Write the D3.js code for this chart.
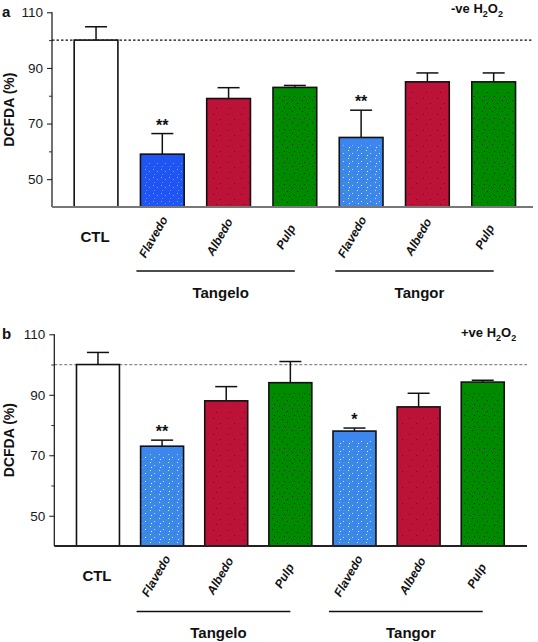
<!DOCTYPE html>
<html>
<head>
<meta charset="utf-8">
<script src="https://cdn.jsdelivr.net/npm/d3@7"></script>
<style>
  html, body { margin: 0; padding: 0; background: #fff; }
  svg { display: block; font-family: "Liberation Sans", Arial, sans-serif; }
</style>
</head>
<body>
<svg id="chart" width="538" height="642"></svg>
<script>
// ---------- data ----------
const categories = ["CTL", "Flavedo", "Albedo", "Pulp", "Flavedo", "Albedo", "Pulp"];
const groupNames = ["Tangelo", "Tangor"];
const groupMembers = [[1, 2, 3], [4, 5, 6]];
const tissue = ["ctl", "flavedo", "albedo", "pulp", "flavedo", "albedo", "pulp"];

const valuesA = [100, 59, 79, 83, 65, 85, 85];
const errorsA = [4.8, 7.4, 3.9, 0.7, 9.8, 3.2, 3.2];
const signifA = ["", "**", "", "", "**", "", ""];

const valuesB = [100, 73, 88, 94, 78, 86, 94.2];
const errorsB = [4, 2, 4.7, 7, 1, 4.5, 0.6];
const signifB = ["", "**", "", "", "*", "", ""];

const yDomain = [40, 110];
const majorTicks = [50, 70, 90, 110];
const minorTicks = [60, 80, 100];
const referenceLevel = 100;
const yTitle = "DCFDA (%)";

// ---------- drawing ----------
const svg = d3.select("#chart");
const defs = svg.append("defs");

function makeDotPattern(id, w, h, dots) {
  const p = defs.append("pattern").attr("id", id)
    .attr("patternUnits", "userSpaceOnUse").attr("width", w).attr("height", h);
  dots.forEach(d => p.append("rect").attr("x", d[0]).attr("y", d[1])
    .attr("width", 1).attr("height", 1).attr("fill", d[2]).attr("opacity", d[3] || 1));
}
makeDotPattern("dotsRed", 14, 16, [[3,2,"#000",0.5],[10,7,"#000",0.5],[6,12,"#000",0.5]]);
makeDotPattern("dotsGreen", 10, 11, [[2,1,"#000",0.7],[7,4,"#000",0.7],[4,8,"#000",0.7],[9,9,"#000",0.5]]);
makeDotPattern("dotsBlue", 9, 8, [[1,1,"#c8e0ff"],[4,0,"#2db82d"],[7,3,"#e0f0ff"],[3,4,"#1fa01f"],[6,6,"#c8e0ff"],[0,6,"#2db82d"]]);
makeDotPattern("dotsBlueDark", 8, 8, [[1,1,"#8fb0ff",0.8],[5,3,"#8fb0ff",0.8],[2,6,"#6a90ff",0.8]]);

function drawPanel(cfg) {
  const g = svg.append("g");
  const y = d3.scaleLinear().domain(yDomain).range([cfg.yBottom, cfg.yTop]);
  const x = d3.scaleBand().domain(d3.range(categories.length))
    .range(cfg.xRange).paddingInner(cfg.padInner).paddingOuter(cfg.padInner / 2);

  // reference dashed line
  g.append("line")
    .attr("x1", cfg.axisX).attr("x2", cfg.axisEnd)
    .attr("y1", y(referenceLevel)).attr("y2", y(referenceLevel))
    .attr("stroke", cfg.dashColor).attr("stroke-width", 1.2)
    .attr("stroke-dasharray", cfg.dash);

  // y axis (major)
  const yAxis = d3.axisLeft(y).tickValues(majorTicks).tickSize(5).tickPadding(4)
    .tickFormat(d3.format("d"));
  const ax = g.append("g").attr("transform", `translate(${cfg.axisX},0)`).call(yAxis);
  ax.select(".domain").remove();
  ax.selectAll(".tick line").attr("stroke", "#111");
  ax.selectAll(".tick text").attr("font-size", 13.5).attr("fill", "#1a1a1a")
    .attr("font-family", "'Liberation Sans', Arial, sans-serif");
  // minor ticks
  const yMinor = d3.axisLeft(y).tickValues(minorTicks).tickSize(3).tickFormat("");
  const axm = g.append("g").attr("transform", `translate(${cfg.axisX},0)`).call(yMinor);
  axm.select(".domain").remove();
  axm.selectAll(".tick line").attr("stroke", "#333");
  // axis line
  g.append("line").attr("x1", cfg.axisX).attr("x2", cfg.axisX)
    .attr("y1", y(yDomain[1])).attr("y2", y(yDomain[0]))
    .attr("stroke", "#111").attr("stroke-width", 1.2);

  // bars
  const fills = { ctl: "#ffffff", albedo: "#bd1238", pulp: "#008a00" };
  const patt = { ctl: null, albedo: "url(#dotsRed)", pulp: "url(#dotsGreen)" };
  categories.forEach((c, i) => {
    const t = tissue[i];
    let fill = fills[t], pat = patt[t];
    if (t === "flavedo") {
      const dark = cfg.darkBlue.includes(i);
      fill = dark ? "#1f55f2" : "#3d86ef";
      pat = dark ? "url(#dotsBlueDark)" : "url(#dotsBlue)";
    }
    const v = cfg.values[i];
    const bx = x(i), bw = x.bandwidth();
    g.append("rect").attr("x", bx).attr("y", y(v)).attr("width", bw)
      .attr("height", y(yDomain[0]) - y(v)).attr("fill", fill);
    if (pat) {
      g.append("rect").attr("x", bx + 2).attr("y", y(v) + 8).attr("width", bw - 4)
        .attr("height", Math.max(0, y(yDomain[0]) - y(v) - 10)).attr("fill", pat);
    }
    g.append("rect").attr("x", bx).attr("y", y(v)).attr("width", bw)
      .attr("height", y(yDomain[0]) - y(v)).attr("fill", "none")
      .attr("stroke", "#111").attr("stroke-width", 1.6);

    // error bar
    const cx = bx + bw / 2;
    const top = y(v + cfg.errors[i]);
    g.append("line").attr("x1", cx).attr("x2", cx).attr("y1", y(v)).attr("y2", top)
      .attr("stroke", "#111").attr("stroke-width", 1.5);
    g.append("line").attr("x1", cx - 11).attr("x2", cx + 11).attr("y1", top).attr("y2", top)
      .attr("stroke", "#111").attr("stroke-width", 1.5);

    if (cfg.signif[i]) {
      g.append("text").attr("x", cx).attr("y", top - 3).attr("text-anchor", "middle")
        .attr("font-size", 16).attr("font-weight", "bold").attr("fill", "#111")
        .text(cfg.signif[i]);
    }
  });

  // x baseline
  g.append("line").attr("x1", cfg.axisX).attr("x2", cfg.axisEnd)
    .attr("y1", y(yDomain[0])).attr("y2", y(yDomain[0]))
    .attr("stroke", cfg.baseColor).attr("stroke-width", 1.8);

  // category labels
  const base = y(yDomain[0]);
  categories.forEach((c, i) => {
    const cx = x(i) + x.bandwidth() / 2;
    if (i === 0) {
      g.append("text").attr("x", cx - 1).attr("y", base + 29).attr("text-anchor", "middle")
        .attr("dominant-baseline", "central")
        .attr("font-size", 15).attr("font-weight", "bold").attr("fill", "#111").text(c);
    } else {
      g.append("text")
        .attr("transform", `translate(${cx - cfg.labelShift},${base + 30}) rotate(-60)`)
        .attr("text-anchor", "middle").attr("dominant-baseline", "central")
        .attr("font-size", 12).attr("font-weight", "bold").attr("font-style", "italic")
        .attr("fill", "#111").text(c);
    }
  });

  // group lines and labels
  groupNames.forEach((name, k) => {
    const m = groupMembers[k];
    const x1 = x(m[0]) - 4;
    const x2 = x(m[m.length - 1]) + x.bandwidth() / 2;
    g.append("line").attr("x1", x1).attr("x2", x2)
      .attr("y1", base + cfg.groupLineOffset).attr("y2", base + cfg.groupLineOffset)
      .attr("stroke", "#111").attr("stroke-width", 1.3);
    g.append("text").attr("x", (x1 + x2) / 2 + 5).attr("y", base + cfg.groupLineOffset + 21)
      .attr("text-anchor", "middle").attr("dominant-baseline", "central")
      .attr("font-size", 15).attr("font-weight", "bold").attr("fill", "#111").text(name);
  });

  // panel letter
  g.append("text").attr("x", 2).attr("y", y(yDomain[1]) + 5)
    .attr("font-size", 15).attr("font-weight", "bold").attr("fill", "#111").text(cfg.letter);

  // y title
  g.append("text")
    .attr("transform", `translate(9,${(y(yDomain[0]) + y(yDomain[1])) / 2}) rotate(-90)`)
    .attr("text-anchor", "middle").attr("dominant-baseline", "central")
    .attr("font-size", 14).attr("font-weight", "bold").attr("fill", "#111").text(yTitle);

  // condition label
  const cond = g.append("text").attr("x", cfg.condX).attr("y", cfg.condY)
    .attr("text-anchor", "start").attr("font-size", 13).attr("font-weight", "bold")
    .attr("fill", "#111");
  cond.append("tspan").text(cfg.condPrefix + " H");
  cond.append("tspan").attr("font-size", 9).attr("dy", 4).text("2");
  cond.append("tspan").attr("dy", -4).text("O");
  cond.append("tspan").attr("font-size", 9).attr("dy", 4).text("2");
}

drawPanel({
  letter: "a", values: valuesA, errors: errorsA, signif: signifA,
  yTop: 12.3, yBottom: 207, axisX: 52, axisEnd: 533,
  xRange: [62.9, 526.8], padInner: 0.34, darkBlue: [1],
  dash: "2.5,2", dashColor: "#111", baseColor: "#777",
  labelShift: 9, groupLineOffset: 64,
  condX: 451, condY: 13, condPrefix: "-ve"
});

drawPanel({
  letter: "b", values: valuesB, errors: errorsB, signif: signifB,
  yTop: 334.3, yBottom: 546, axisX: 54.3, axisEnd: 527,
  xRange: [65.9, 514.8], padInner: 0.33, darkBlue: [],
  dash: "3,2", dashColor: "#888", baseColor: "#222",
  labelShift: 6, groupLineOffset: 65.5,
  condX: 461, condY: 337, condPrefix: "+ve"
});
</script>
</body>
</html>
